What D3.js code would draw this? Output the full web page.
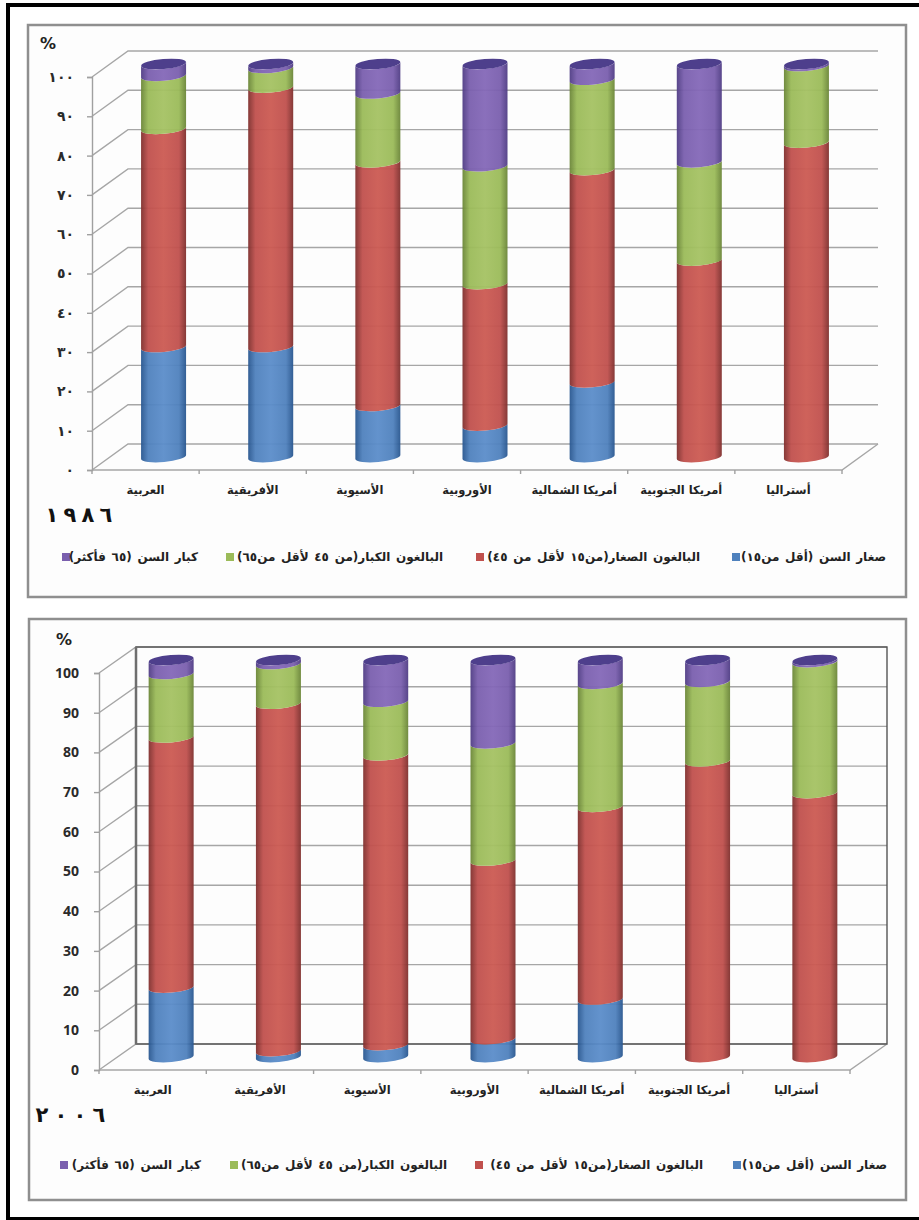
<!DOCTYPE html>
<html lang="ar">
<head>
<meta charset="utf-8">
<title>الفئات العمرية</title>
<script src="https://cdnjs.cloudflare.com/ajax/libs/d3/7.9.0/d3.min.js"></script>
<style>
  html, body { margin: 0; padding: 0; background: #fff; }
  svg { display: block; }
  text { font-family: "DejaVu Sans", sans-serif; fill: #222; }
</style>
</head>
<body>
<svg id="page" width="919" height="1220"></svg>
<script>
const regions = ["العربية", "الأفريقية", "الأسيوية", "الأوروبية", "أمريكا الشمالية", "أمريكا الجنوبية", "أستراليا"];
const groups = ["young", "adultLow", "adultHigh", "old"];
const groupLabels = [
  "صغار السن (أقل من١٥)",
  "البالغون الصغار(من١٥ لأقل من ٤٥)",
  "البالغون الكبار(من ٤٥ لأقل من٦٥)",
  "كبار السن (٦٥ فأكثر)"
];
const groupColors = ["#4f81bd", "#c0504d", "#9bbb59", "#7a5fae"];
const groupLit = ["#5b8dca", "#cc5a52", "#a5c263", "#8468b8"];
const groupEdges = ["#28568f", "#7f2f2d", "#6a8537", "#4f3c84"];

// Shares per region, percent, in region order
const young1986 = [28, 28, 13, 8, 19, 0, 0];
const adultLow1986 = [55.5, 66, 62, 36, 54, 50, 80];
const adultHigh1986 = [13.5, 5, 17.5, 30, 23, 25, 19.5];
const old1986 = [3, 1, 7.5, 26, 4, 25, 0.5];

const young2006 = [17.5, 1.5, 3, 4.5, 14.5, 0, 0];
const adultLow2006 = [63, 87.5, 73, 45, 48.5, 74.5, 66.5];
const adultHigh2006 = [16, 10, 13.5, 29.5, 31, 20, 33];
const old2006 = [3.5, 1, 10.5, 21, 6, 5.5, 0.5];

const tickValues = [0, 10, 20, 30, 40, 50, 60, 70, 80, 90, 100];
const tickLabelsArabic = ["٠", "١٠", "٢٠", "٣٠", "٤٠", "٥٠", "٦٠", "٧٠", "٨٠", "٩٠", "١٠٠"];
const tickLabelsLatin = ["0", "10", "20", "30", "40", "50", "60", "70", "80", "90", "100"];
const yearDigits1986 = ["١", "٩", "٨", "٦"];
const yearDigits2006 = ["٢", "٠", "٠", "٦"];

const svg = d3.select("#page");
const defs = svg.append("defs");

// Cylinder shading: dark edges, lit centre
groups.forEach((g, i) => {
  const grad = defs.append("linearGradient").attr("id", "cyl-" + g);
  [[0, groupEdges[i]], [0.16, groupColors[i]], [0.5, groupLit[i]], [0.84, groupColors[i]], [1, groupEdges[i]]]
    .forEach(([o, c]) => grad.append("stop").attr("offset", o).attr("stop-color", c));
});

// Outer frame, open on the right
svg.append("path").attr("d", "M8,1220V5H919").attr("fill", "none").attr("stroke", "#000").attr("stroke-width", 4);
svg.append("path").attr("d", "M8,1218.5H919").attr("fill", "none").attr("stroke", "#000").attr("stroke-width", 3);

function drawPanel(cfg) {
  const g = svg.append("g");
  const { frame, x0, x1, y0, y100, dx, dy } = cfg;

  g.append("rect")
    .attr("x", frame[0]).attr("y", frame[1])
    .attr("width", frame[2] - frame[0]).attr("height", frame[3] - frame[1])
    .attr("fill", "#fdfdfd").attr("stroke", "#8f8f8f").attr("stroke-width", 2.5);

  const x = d3.scaleBand().domain(regions).range([x0, x1]);
  const y = d3.scaleLinear().domain([0, 100]).range([y0, y100]);

  // Gridlines on the back wall and the diagonals joining them to the front axis
  const grid = g.append("g").attr("fill", "none").attr("stroke", "#a6a6a6").attr("stroke-width", 1.4);
  tickValues.forEach(t => {
    grid.append("path").attr("d", `M${x0},${y(t)}L${x0 + dx},${y(t) + dy}H${x1 + dx}`);
  });
  grid.append("path").attr("d", `M${x0},${y0}H${x1}L${x1 + dx},${y0 + dy}`);

  if (cfg.darkWall) {
    g.append("rect")
      .attr("x", x0 + dx).attr("y", y100 + dy)
      .attr("width", x1 - x0).attr("height", y0 - y100)
      .attr("fill", "none").attr("stroke", "#555").attr("stroke-width", 1.4);
    g.append("line")
      .attr("x1", x0 + dx).attr("x2", x0 + dx).attr("y1", y100 + dy).attr("y2", y0 + dy)
      .attr("stroke", "#6e6e6e").attr("stroke-width", 2.5);
  }

  // Value axis on the front edge
  const yAxis = d3.axisLeft(y)
    .tickValues(tickValues)
    .tickFormat((d, i) => cfg.tickLabels[i])
    .tickSize(5).tickPadding(cfg.tickPadding);
  const ya = g.append("g").attr("transform", `translate(${x0},0)`).call(yAxis);
  ya.selectAll("path,line").attr("stroke", "#a0a0a0").attr("stroke-width", 1.4);
  ya.selectAll("text")
    .attr("font-family", cfg.tickFont).style("font-family", cfg.tickFont)
    .attr("font-size", cfg.tickSize).attr("font-weight", "bold")
    .attr("letter-spacing", cfg.tickSpacing).style("fill", "#2a2a2a");

  // Category axis
  const xAxis = d3.axisBottom(x).tickSize(0).tickPadding(16);
  const xa = g.append("g").attr("transform", `translate(0,${y0})`).call(xAxis);
  xa.select("path").remove();
  xa.selectAll("text").attr("font-size", 11.5).attr("font-weight", "bold").style("fill", "#222");
  g.append("g").selectAll("line")
    .data(regions.map(r => x(r)).concat([x1]))
    .join("line")
    .attr("x1", d => d).attr("x2", d => d)
    .attr("y1", y0).attr("y2", y0 + 4)
    .attr("stroke", "#a0a0a0").attr("stroke-width", 1.4);

  // Stacked cylinders
  const rows = regions.map((r, i) => ({
    region: r,
    young: cfg.series[0][i],
    adultLow: cfg.series[1][i],
    adultHigh: cfg.series[2][i],
    old: cfg.series[3][i]
  }));
  const stacked = d3.stack().keys(groups)(rows);

  const rx = 22.5, ry = 5, tilt = 2;
  const midX = r => x(r) + x.bandwidth() / 2 + dx / 2;
  const sideY = v => y(v) + dy / 2;

  const side = (r, v0, v1) => {
    const cx = midX(r);
    return `M${cx - rx},${sideY(v0) + tilt}` +
      `A${rx},${ry} -5 0 0 ${cx + rx},${sideY(v0) - tilt}` +
      `L${cx + rx},${sideY(v1) - tilt}` +
      `A${rx},${ry} -5 0 1 ${cx - rx},${sideY(v1) + tilt}Z`;
  };

  stacked.forEach((layer, li) => {
    g.append("g").selectAll("path")
      .data(layer.filter(d => d[1] > d[0]))
      .join("path")
      .attr("d", d => side(d.data.region, d[0], d[1]))
      .attr("fill", `url(#cyl-${groups[li]})`)
      .attr("fill-opacity", 0.95);
  });

  // Caps at the top of each stack
  g.append("g").selectAll("ellipse")
    .data(stacked[stacked.length - 1])
    .join("ellipse")
    .attr("cx", d => midX(d.data.region))
    .attr("cy", d => sideY(d[1]))
    .attr("rx", rx).attr("ry", ry)
    .attr("transform", d => `rotate(-5 ${midX(d.data.region)} ${sideY(d[1])})`)
    .attr("fill", "#4e3f8c");

  // Unit, widely spaced year digits and legend
  g.append("text").attr("x", cfg.unit[0]).attr("y", cfg.unit[1])
    .attr("text-anchor", "middle").attr("font-size", 16).attr("font-weight", "bold").text("%");
  g.append("g").selectAll("text")
    .data(cfg.yearDigits)
    .join("text")
    .attr("x", (d, i) => cfg.year[0] + i * cfg.year[2])
    .attr("y", cfg.year[1])
    .attr("text-anchor", "middle")
    .attr("font-size", 21).attr("font-weight", "bold")
    .style("fill", "#111").text(d => d);

  const legend = g.append("g").selectAll("g").data(groupLabels).join("g");
  legend.append("rect")
    .attr("x", (d, i) => cfg.legendSwatch[i]).attr("y", cfg.legendY - 4)
    .attr("width", 8).attr("height", 8)
    .attr("fill", (d, i) => groupColors[i]);
  legend.append("text")
    .attr("x", (d, i) => cfg.legendRight[i]).attr("y", cfg.legendY + 4)
    .attr("direction", "rtl").attr("text-anchor", "start")
    .attr("font-size", 12).attr("font-weight", "bold").attr("word-spacing", 1.5).style("fill", "#222")
    .text(d => d);
}

drawPanel({
  frame: [28, 25, 906, 597],
  x0: 92, x1: 842, y0: 470, y100: 77, dx: 36, dy: -26,
  series: [young1986, adultLow1986, adultHigh1986, old1986],
  tickLabels: tickLabelsArabic,
  tickFont: "DejaVu Sans", tickSize: 14, tickSpacing: 1, tickPadding: 13,
  darkWall: false,
  unit: [48, 49],
  year: [52, 522, 18], yearDigits: yearDigits1986,
  legendY: 557,
  legendSwatch: [732, 476, 226, 62],
  legendRight: [886, 700, 443, 198]
});

drawPanel({
  frame: [29, 619, 906, 1200],
  x0: 99, x1: 850, y0: 1070, y100: 673, dx: 37, dy: -26,
  series: [young2006, adultLow2006, adultHigh2006, old2006],
  tickLabels: tickLabelsLatin,
  tickFont: "Open Sans", tickSize: 14, tickSpacing: 0, tickPadding: 15,
  darkWall: true,
  unit: [64, 645],
  year: [42, 1122, 19], yearDigits: yearDigits2006,
  legendY: 1165,
  legendSwatch: [733, 475, 230, 60],
  legendRight: [887, 703, 447, 201]
});
</script>
</body>
</html>
